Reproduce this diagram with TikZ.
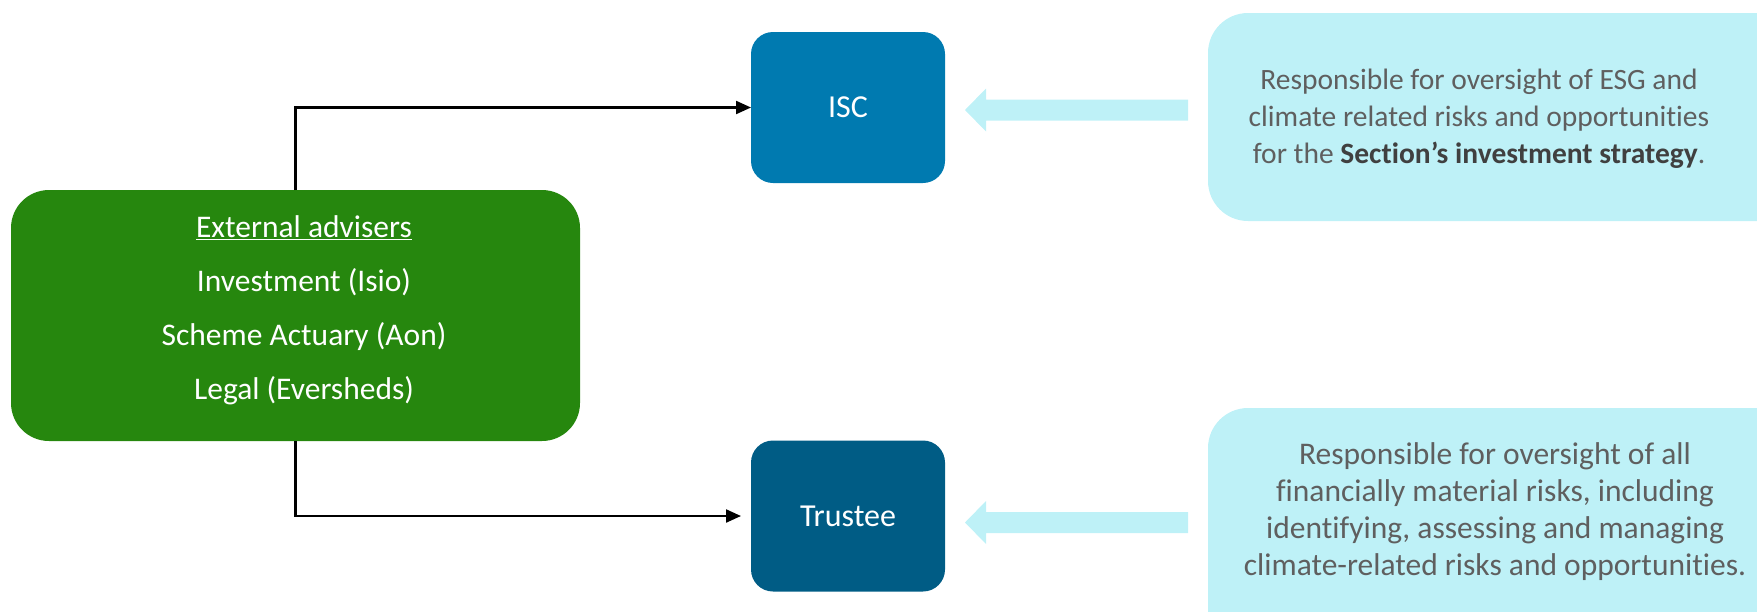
\documentclass[tikz,border=0pt]{standalone}
\usepackage{fontspec}
\setmainfont{Carlito}[Ligatures={NoCommon}]
\usetikzlibrary{arrows.meta}
\definecolor{advgreen}{RGB}{38,135,14}
\definecolor{iscblue}{RGB}{0,122,176}
\definecolor{trublue}{RGB}{0,92,133}
\definecolor{lightcyan}{RGB}{190,241,247}
\definecolor{descgray}{RGB}{95,95,95}
\definecolor{descdark}{RGB}{64,64,64}
\tikzset{
  advbox/.style={fill=advgreen, rounded corners=38pt, inner sep=0pt, outer sep=0pt},
  rolebox/.style={rounded corners=22pt, inner sep=0pt, outer sep=0pt, minimum width=194pt, minimum height=151pt, text=white, font=\fontsize{32}{38}\selectfont},
  descbox/.style={fill=lightcyan, rounded corners=40pt, inner sep=0pt, outer sep=0pt, anchor=north west},
  desctext/.style={text=descgray, align=center, inner sep=0pt},
  advtext/.style={text=white, align=center, font=\fontsize{31.5}{54}\selectfont, inner sep=0pt},
  conn/.style={line width=2.2pt, -{Triangle[length=15pt,width=13pt]}},
  blockarrow/.style={fill=lightcyan, draw=none}
}
\begin{document}
\begin{tikzpicture}[x=1pt,y=-1pt]
\useasboundingbox (0,0) rectangle (1757,611);
% description boxes
\node[descbox, minimum width=620pt, minimum height=208pt] (d1) at (1208,13) {};
\node[descbox, minimum width=620pt, minimum height=260pt] (d2) at (1208,408) {};
\node[desctext, font=\fontsize{29.5}{37}\selectfont] (t1) at (1479,119) {Responsible for oversight of ESG and\\climate related risks and opportunities\\for the {\color{descdark}\bfseries Section’s investment strategy}.};
\node[desctext, font=\fontsize{31.5}{37}\selectfont] (t2) at (1495,512) {Responsible for oversight of all\\financially material risks, including\\identifying, assessing and managing\\climate-related risks and opportunities.};
% block arrows
\fill[blockarrow] (965,110) -- (986,88.5) -- (986,99.5) -- (1188,99.5) -- (1188,120.5) -- (986,120.5) -- (986,131.5) -- cycle;
\fill[blockarrow] (965,522.5) -- (986,501) -- (986,512) -- (1188,512) -- (1188,533) -- (986,533) -- (986,544) -- cycle;
% role boxes
\node[rolebox, fill=iscblue] (isc) at (848,107.5) {ISC};
\node[rolebox, fill=trublue] (tru) at (848,516) {Trustee};
% advisers
\node[advbox, minimum width=569pt, minimum height=251pt] (ext) at (295.5,315.5) {};
\node[advtext] (advt) at (304,310) {\underline{External advisers}\\Investment (Isio)\\Scheme Actuary (Aon)\\Legal (Eversheds)};
% connectors
\draw[conn] (ext.north) |- (isc.west);
\draw[conn, shorten >=10pt] (ext.south) |- (tru.west);
\end{tikzpicture}
\end{document}
